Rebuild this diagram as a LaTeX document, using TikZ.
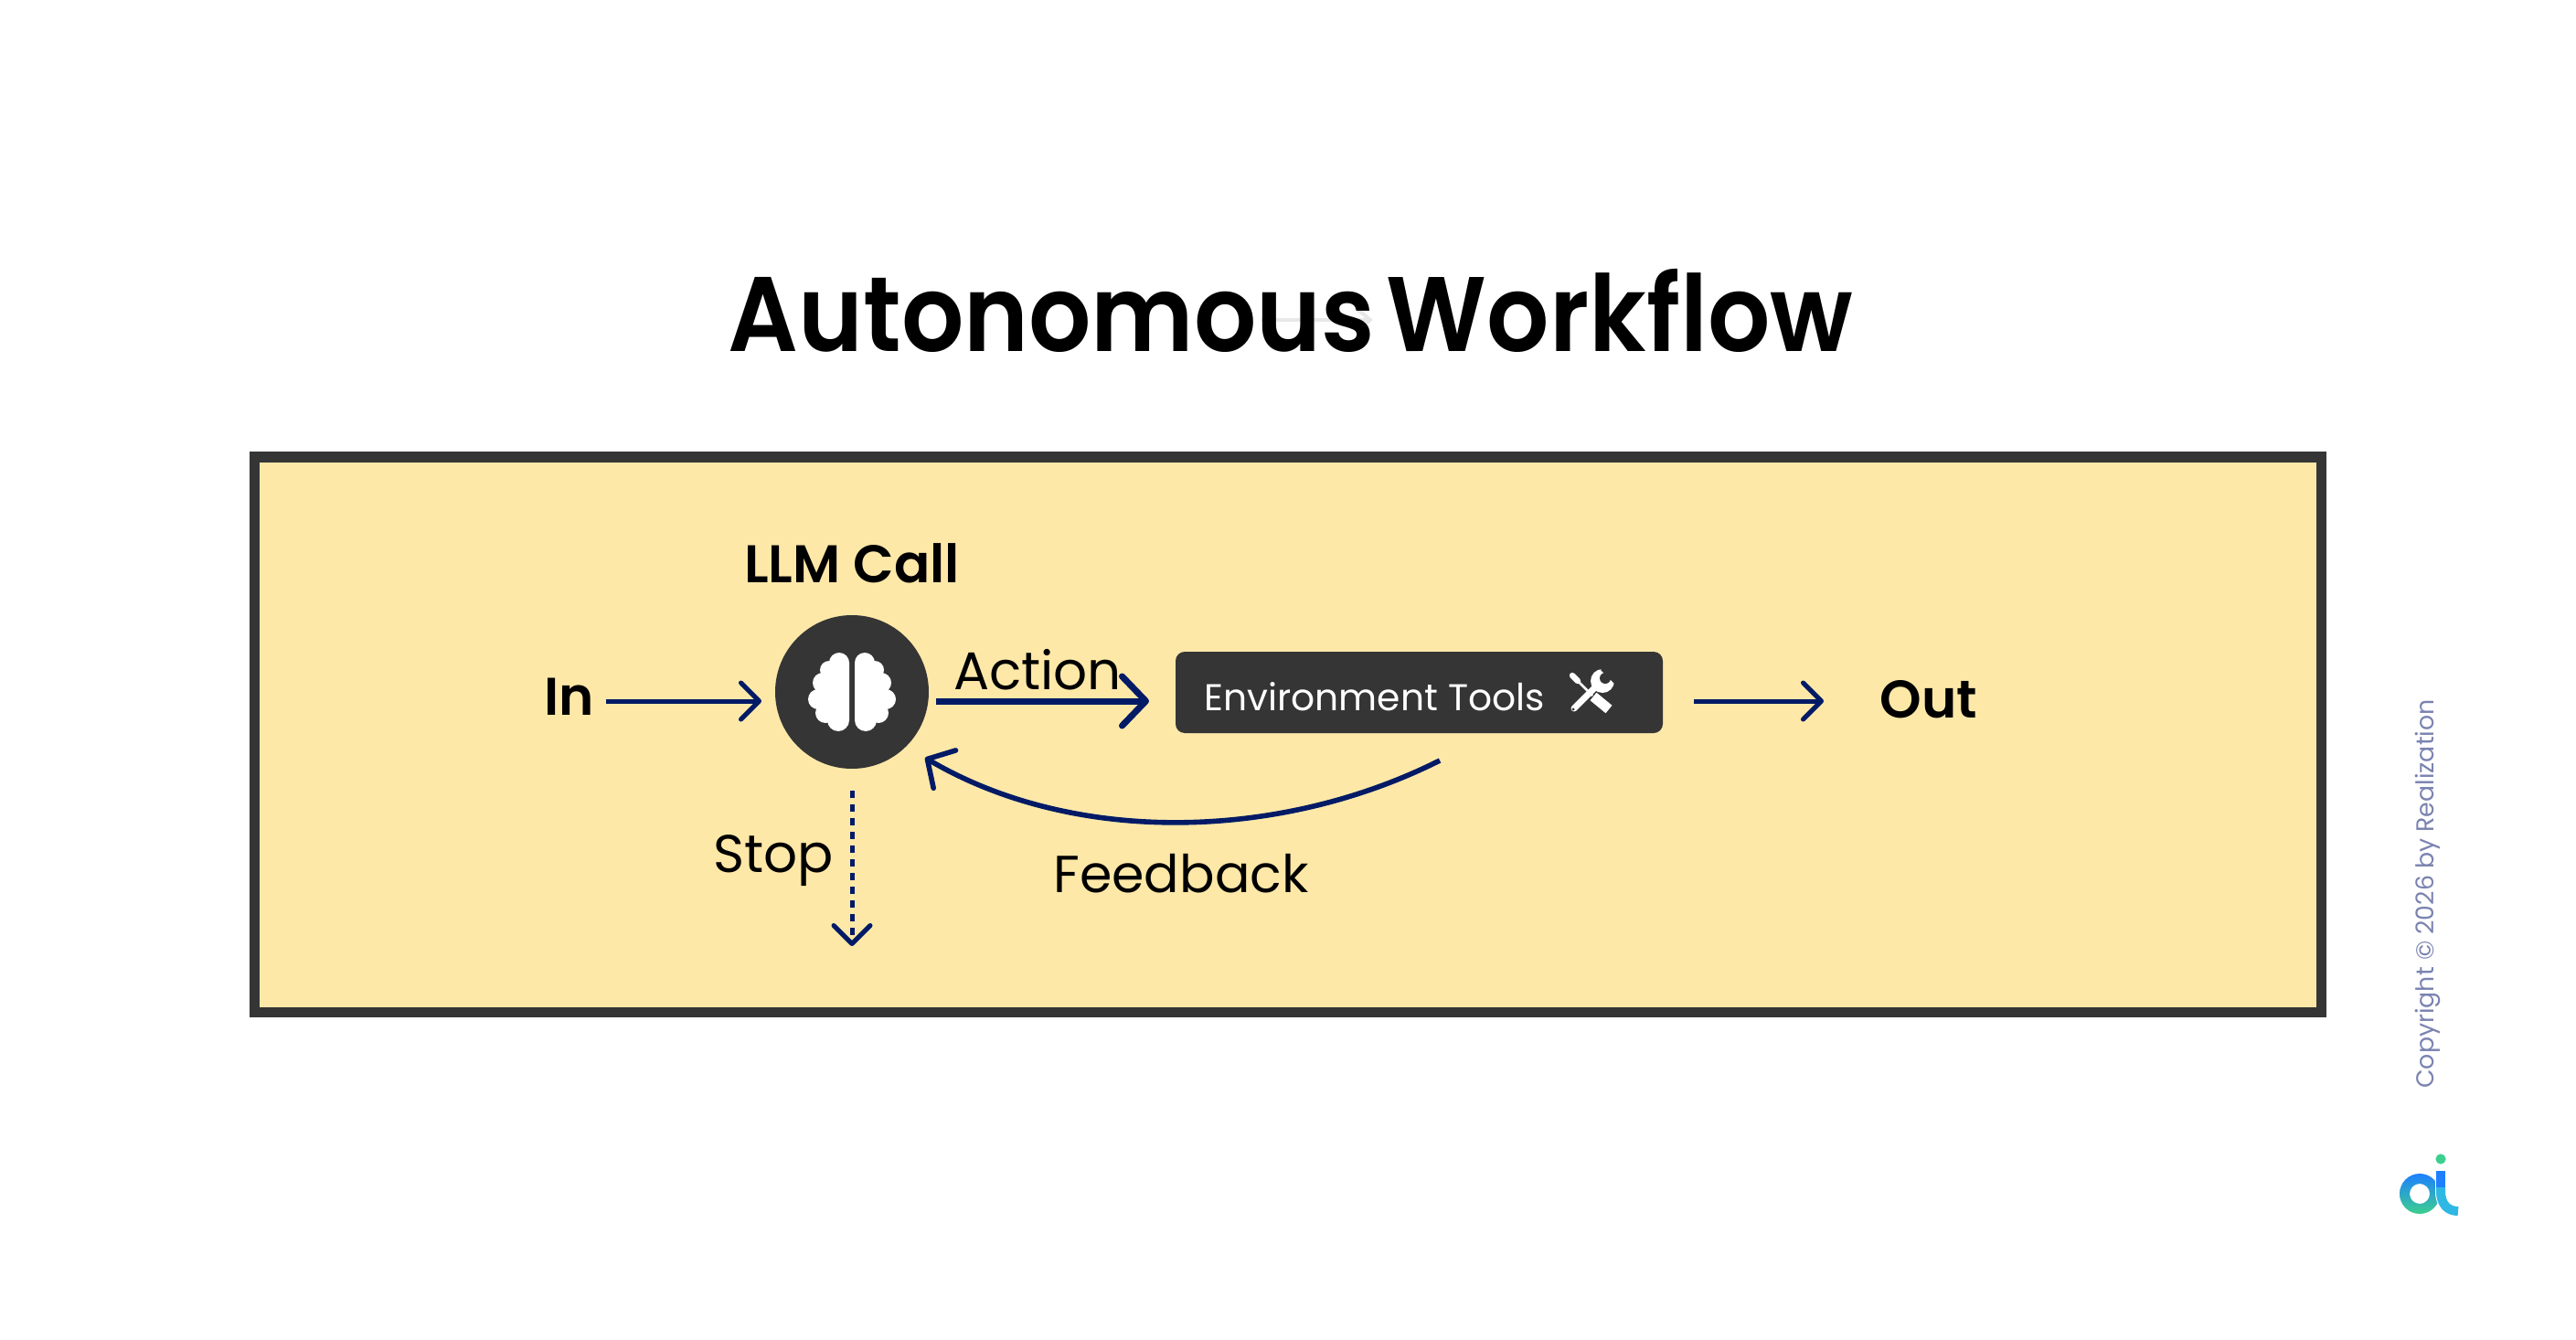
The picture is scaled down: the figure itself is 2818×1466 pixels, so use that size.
\documentclass[tikz,border=0pt]{standalone}
\usepackage{fontspec}
\setmainfont{Poppins}[BoldFont={Poppins SemiBold}]
\newfontfamily\headfont{Poppins SemiBold}[FakeStretch=0.925, WordSpace=0.5]
\usetikzlibrary{arrows.meta, positioning}
\definecolor{panelfill}{HTML}{FEE8A8}
\definecolor{darkgrey}{HTML}{353535}
\definecolor{arrowblue}{HTML}{001A66}
\definecolor{copygrey}{HTML}{7A83B0}
\definecolor{fainttip}{HTML}{E8E8E8}
\definecolor{logoblue}{HTML}{1E80FF}
\definecolor{logocyan}{HTML}{30B8E4}
\definecolor{logogreen}{HTML}{3CCF8E}

\begin{document}
\begin{tikzpicture}[x=0.5pt, y=-0.5pt, node distance=70.5pt]
        \tikzstyle{heading} = [font=\fontsize{58}{60}\headfont, text=black, inner sep=0pt]
        \tikzstyle{endlabel} = [font=\fontsize{29}{32}\selectfont\bfseries, text=black, inner sep=0pt]
        \tikzstyle{edgelabel} = [font=\fontsize{29}{32}\selectfont, text=black, inner sep=0pt]
        \tikzstyle{toolbox} = [rectangle, rounded corners=5pt, fill=darkgrey, minimum width=266.5pt, minimum height=44.5pt, inner sep=0pt]
        \tikzstyle{brainball} = [circle, fill=darkgrey, minimum size=84pt, inner sep=0pt]
        \tikzstyle{thinarrow} = [arrowblue, line width=2.5pt, -{Straight Barb[length=10pt, width=20pt, line cap=round, line join=round]}]
        \tikzstyle{boldarrow} = [arrowblue, line width=3.5pt, -{Straight Barb[length=13pt, width=27pt, line cap=round, line join=round]}]

        \useasboundingbox (0,0) rectangle (2818,1466);

        % panel and title
        \node (panel) [rectangle, draw=darkgrey, line width=5.75pt, fill=panelfill, minimum width=1130.5pt, minimum height=303.75pt, inner sep=0pt] at (1409,803.75) {};
        \coordinate (faintl) at (1380,350);
        \coordinate (faintr) at (1502,350);
        \draw[fainttip, line width=2pt, -{Straight Barb[length=8pt, width=13.5pt]}] (faintl) -- (faintr);
        \node (title) [heading] at (1412,340) {Autonomous Workflow};

        % main row
        \node (brain) [brainball] at (932,757) {};
        \node (llm) [endlabel, above of=brain] {LLM Call};
        \node (tools) [toolbox] at (1552.5,757.5) {};
        \node (toolstext) [edgelabel, font=\fontsize{20.4}{24}\selectfont, text=white, anchor=west] at (1317,762) {Environment Tools};
        \node (in) [endlabel] at (623,762) {In};
        \node (out) [endlabel] at (2110,765) {Out};
        \node (action) [edgelabel] at (1135,733) {Action};
        \node (stop) [edgelabel] at (846,942) {Stop};
        \node (feedback) [edgelabel, font=\fontsize{28.5}{32}\selectfont] at (1292,956) {Feedback};

        % brain icon
        \begin{scope}[shift={(brain.center)}]
            \foreach \side in {-1,1} {
                \begin{scope}[xscale=\side]
                    \fill[white] (3,-32) -- (3,31) -- (30,25) -- (40,8) -- (30,-24) -- (14,-40) -- cycle;
                    \foreach \bx/\by/\br in {14/-32/11, 25/-24/10, 32/-10/11, 37/8/11, 29/23/11, 15/31/12} {
                        \fill[white] (\bx,\by) circle ({\br*0.5pt});
                    }
                \end{scope}
            }
        \end{scope}

        % tools icon
        \begin{scope}[shift={(1740,757)}]
            \draw[white, line width=1.4pt] (-20,-18) -- (2,4);
            \draw[white, line width=3.2pt, line cap=round] (-20,-18) -- (-14,-12);
            \draw[white, line width=5.5pt] (3,5) -- (20,19);
            \draw[white, line width=3.5pt, line cap=round] (-18,18) -- (8,-8);
            \fill[white] (13,-12) circle (6.5pt);
            \fill[darkgrey] (16,-15) circle (3pt);
            \fill[darkgrey] (11,-24) -- (18,-30) -- (34,-14) -- (26,-9) -- cycle;
            \fill[darkgrey] (-19,19) circle (0.8pt);
        \end{scope}

        % connectors
        \coordinate (inend) at (833,767);
        \coordinate (actionend) at (1257,767);
        \coordinate (outend) at (1995,767);
        \coordinate (fbstart) at (1575,832);
        \coordinate (fbend) at (1012,829);
        \coordinate (stopend) at (932,1035);
        \draw[thinarrow] (663,767) -- (inend);
        \draw[boldarrow] (1024,767) -- (actionend);
        \draw[thinarrow] (1853,767) -- (outend);
        \draw[arrowblue, line width=2.8pt, -{Straight Barb[length=11pt, width=24pt, line cap=round, line join=round]}] (fbstart) .. controls (1400,920) and (1175,925) .. (fbend);
        \draw[thinarrow, dash pattern=on 4pt off 3.5pt] (brain.south |- 0,865) -- (stopend);

        % copyright and logo
        \node (copy) [rotate=90, text=copygrey, font=\fontsize{13.4}{15}\selectfont, inner sep=0pt] at (2656,978) {Copyright © 2026 by Realization};
        \shade[even odd rule, top color=logoblue, middle color=logocyan, bottom color=logogreen] (2647,1306) circle (11pt) (2647,1306) circle (5.5pt);
        \draw[white, line width=6pt] (2670,1288) -- (2670,1303) .. controls (2670,1318) and (2678,1325) .. (2690,1325);
        \draw[logoblue, line width=5pt] (2670,1281) -- (2670,1299);
        \draw[logocyan, line width=5pt] (2670,1299) -- (2670,1303) .. controls (2670,1318) and (2678,1325) .. (2689,1325);
        \fill[logogreen] (2670,1268) circle (2.8pt);
\end{tikzpicture}
\end{document}
